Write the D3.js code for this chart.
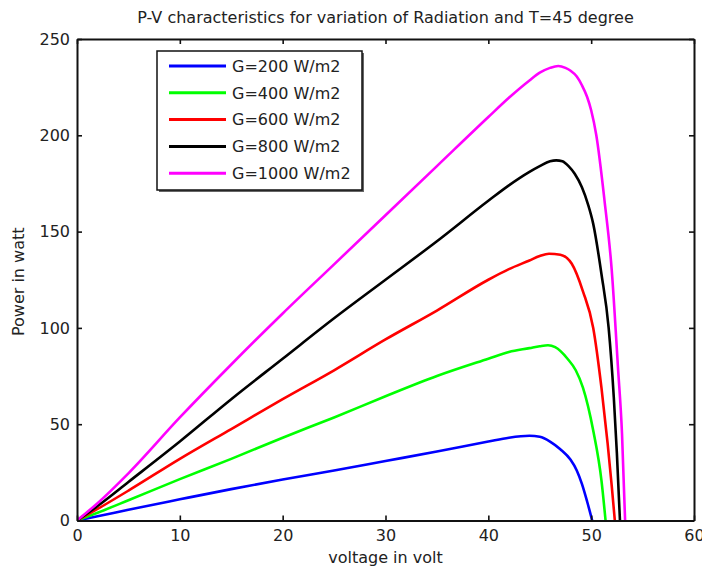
<!DOCTYPE html>
<html>
<head>
<meta charset="utf-8">
<script src="https://d3js.org/d3.v7.min.js"></script>
<style>
  body { margin: 0; background: #fff; }
  text { font-family: "DejaVu Sans", sans-serif; fill: #222; }
</style>
</head>
<body>
<script>
// P-V curves
var seriesNames = ["G=200 W/m2", "G=400 W/m2", "G=600 W/m2", "G=800 W/m2", "G=1000 W/m2"];
var seriesColors = ["#0000ff", "#00ff00", "#ff0000", "#000000", "#ff00ff"];

var v200 = [0, 2, 5, 10, 15, 20, 25, 30, 35, 40, 42, 44, 45, 46, 47, 48, 48.6, 49.1, 49.6, 50.1];
var p200 = [0, 2.2, 5.6, 11, 16.3, 21.3, 26, 30.9, 35.8, 41, 43, 44, 43.5, 41, 37, 31.5, 26, 19, 10, 0];

var v400 = [0, 2, 5, 10, 15, 20, 25, 30, 35, 40, 42, 44, 45, 45.8, 46.5, 47.7, 48.5, 49.2, 50.2, 51, 51.4];
var p400 = [0, 4, 10.5, 21.5, 32, 43, 53.5, 64.5, 75, 84, 87.5, 89.5, 90.5, 91, 90, 84, 78, 69, 46.7, 20.8, 0];

var v600 = [0, 2, 5, 10, 15, 20, 25, 30, 35, 40, 42, 44, 45, 45.9, 47, 48.1, 49.2, 50.2, 51, 51.6, 52, 52.3];
var p600 = [0, 6, 15.5, 32, 47.5, 63, 78, 94, 109, 125, 130.5, 135, 137.3, 138.5, 138, 133.4, 119, 100, 69, 40, 18, 0];

var v800 = [0, 2, 5, 10, 15, 20, 25, 30, 35, 40, 42, 44, 45, 46, 46.6, 47.2, 47.8, 48.4, 49.1, 49.7, 50.2, 51, 51.7, 52.2, 52.5, 52.8];
var p800 = [0, 7.5, 20, 41, 63, 84, 105, 125, 145, 166, 174, 181, 184, 186.5, 187, 186.5, 184, 180, 173, 164, 154, 128, 100, 64, 35, 0];

var v1000 = [0, 2, 5, 10, 15, 20, 25, 30, 35, 40, 42, 44, 45, 46, 46.8, 47.5, 48, 48.6, 49.1, 49.6, 50, 50.5, 51.3, 52, 52.6, 53, 53.3];
var p1000 = [0, 9, 24.5, 53.5, 81, 107.5, 133, 158.5, 184, 209.5, 219.5, 228.5, 232.5, 235, 236, 235, 233.5, 230.5, 226, 220, 213, 200, 166, 130, 80, 45, 0];

var xTicks = [0, 10, 20, 30, 40, 50, 60];
var yTicks = [0, 50, 100, 150, 200, 250];

var voltages = [v200, v400, v600, v800, v1000];
var powers = [p200, p400, p600, p800, p1000];

var width = 702, height = 571;
var plotLeft = 77, plotRight = 694, plotTop = 39, plotBottom = 520.5;

var svg = d3.select("body").append("svg")
    .attr("width", width)
    .attr("height", height);

var x = d3.scaleLinear().domain([0, 60]).range([plotLeft, plotRight]);
var y = d3.scaleLinear().domain([0, 250]).range([plotBottom, plotTop]);

// curves (drawn first, the frame goes over them)
var line = d3.line()
    .x(function (d) { return x(d[0]); })
    .y(function (d) { return y(d[1]); })
    .curve(d3.curveMonotoneX);

svg.append("clipPath").attr("id", "plotclip")
  .append("rect")
    .attr("x", plotLeft).attr("y", plotTop)
    .attr("width", plotRight - plotLeft).attr("height", plotBottom - plotTop);

svg.append("g").attr("clip-path", "url(#plotclip)")
  .selectAll("path")
  .data(seriesNames)
  .enter().append("path")
    .attr("fill", "none")
    .attr("stroke", function (d, i) { return seriesColors[i]; })
    .attr("stroke-width", 2.6)
    .attr("stroke-linejoin", "round")
    .attr("d", function (d, i) {
      return line(voltages[i].map(function (v, j) { return [v, powers[i][j]]; }));
    });

// axes, MATLAB style: ticks inside, on all four sides
var tickLen = 5;
var xBottom = d3.axisBottom(x).tickValues(xTicks).tickSizeInner(-tickLen).tickSizeOuter(0).tickPadding(9);
var xTop = d3.axisTop(x).tickValues(xTicks).tickSizeInner(-tickLen).tickSizeOuter(0).tickFormat("");
var yLeft = d3.axisLeft(y).tickValues(yTicks).tickSizeInner(-tickLen).tickSizeOuter(0).tickPadding(7);
var yRight = d3.axisRight(y).tickValues(yTicks).tickSizeInner(-tickLen).tickSizeOuter(0).tickFormat("");

function styleAxis(g) {
  g.selectAll(".domain").attr("stroke", "#111").attr("stroke-width", 2);
  g.selectAll(".tick line").attr("stroke", "#111").attr("stroke-width", 1.6);
  g.selectAll(".tick text").style("font-family", "DejaVu Sans, sans-serif")
    .style("font-size", "16px").attr("fill", "#222");
}

svg.append("g").attr("transform", "translate(0," + plotBottom + ")").call(xBottom).call(styleAxis);
svg.append("g").attr("transform", "translate(0," + plotTop + ")").call(xTop).call(styleAxis);
svg.append("g").attr("transform", "translate(" + plotLeft + ",0)").call(yLeft).call(styleAxis);
svg.append("g").attr("transform", "translate(" + plotRight + ",0)").call(yRight).call(styleAxis);

// titles
svg.append("text")
    .attr("x", (plotLeft + plotRight) / 2)
    .attr("y", 23)
    .attr("text-anchor", "middle")
    .style("font-size", "16px")
    .text("P-V characteristics for variation of Radiation and T=45 degree");

svg.append("text")
    .attr("x", (plotLeft + plotRight) / 2)
    .attr("y", 563)
    .attr("text-anchor", "middle")
    .style("font-size", "16px")
    .text("voltage in volt");

svg.append("text")
    .attr("transform", "translate(24," + ((plotTop + plotBottom) / 2 + 2) + ") rotate(-90)")
    .attr("text-anchor", "middle")
    .style("font-size", "16px")
    .text("Power in watt");

// legend
var legend = svg.append("g");
legend.append("rect")
    .attr("x", 159).attr("y", 53)
    .attr("width", 205).attr("height", 139)
    .attr("fill", "#666");
legend.append("rect")
    .attr("x", 157).attr("y", 51)
    .attr("width", 205).attr("height", 139)
    .attr("fill", "#fff")
    .attr("stroke", "#111")
    .attr("stroke-width", 1.5);

var item = legend.selectAll(".item")
    .data(seriesNames)
  .enter().append("g")
    .attr("transform", function (d, i) { return "translate(0," + (66 + i * 26.8) + ")"; });

item.append("line")
    .attr("x1", 169).attr("x2", 226)
    .attr("stroke", function (d, i) { return seriesColors[i]; })
    .attr("stroke-width", 3);

item.append("text")
    .attr("x", 232)
    .attr("dy", "0.36em")
    .style("font-size", "16px")
    .text(function (d) { return d; });
</script>
</body>
</html>
